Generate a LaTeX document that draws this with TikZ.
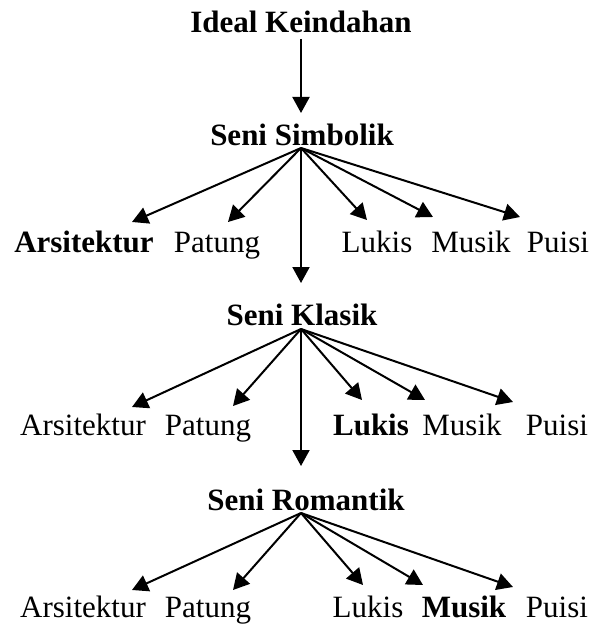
\documentclass[tikz,border=0pt]{standalone}
\usepackage{fontspec}
\setmainfont{Liberation Serif}
\usetikzlibrary{arrows.meta}

\tikzset{
  head/.style={anchor=base, font=\fontsize{15.5}{18}\selectfont\bfseries, inner sep=0pt},
  art/.style={anchor=base, font=\fontsize{15.5}{18}\selectfont, inner sep=0pt},
  artb/.style={art, font=\fontsize{15.5}{18}\selectfont\bfseries},
  arr/.style={-{Triangle[length=8pt,width=8.5pt]}, line width=1pt}
}

\begin{document}
\begin{tikzpicture}[x=0.5pt, y=-0.5pt]
\useasboundingbox (0,0) rectangle (594,626);

% judul
\node[head] (ideal) at (301,33) {Ideal Keindahan};
\node[head] (simbolik) at (302,145) {Seni Simbolik};
\node[head] (klasik) at (302,325) {Seni Klasik};
\node[head] (romantik) at (306,510) {Seni Romantik};

\coordinate (o0) at (301,39);
\coordinate (o1) at (301,148);
\coordinate (o2) at (301,329);
\coordinate (o3) at (301,513);

\draw[arr] (o0) -- (301,113) coordinate (t0);
\draw[arr] (o1) -- (301,283) coordinate (t1);
\draw[arr] (o2) -- (301,466) coordinate (t2);

% seni simbolik
\node[artb] (ars1) at (84,252) {Arsitektur};
\node[art] (pat1) at (217,252) {Patung};
\node[art] (luk1) at (377,252) {Lukis};
\node[art] (mus1) at (471,252) {Musik};
\node[art] (pui1) at (558,252) {Puisi};

\coordinate (ta1) at (132,222);
\coordinate (tp1) at (228,222);
\coordinate (tl1) at (367,220);
\coordinate (tm1) at (433,217);
\coordinate (tu1) at (520,217);
\foreach \t in {ta1,tp1,tl1,tm1,tu1} \draw[arr] (o1) -- (\t);

% seni klasik
\node[art] (ars2) at (83,435) {Arsitektur};
\node[art] (pat2) at (208,435) {Patung};
\node[artb] (luk2) at (371,435) {Lukis};
\node[art] (mus2) at (462,435) {Musik};
\node[art] (pui2) at (557,435) {Puisi};

\coordinate (ta2) at (132,407);
\coordinate (tp2) at (233,406);
\coordinate (tl2) at (362,400);
\coordinate (tm2) at (425,400);
\coordinate (tu2) at (513,402);
\foreach \t in {ta2,tp2,tl2,tm2,tu2} \draw[arr] (o2) -- (\t);

% seni romantik
\node[art] (ars3) at (83,617) {Arsitektur};
\node[art] (pat3) at (208,617) {Patung};
\node[art] (luk3) at (368,617) {Lukis};
\node[artb] (mus3) at (464,617) {Musik};
\node[art] (pui3) at (557,617) {Puisi};

\coordinate (ta3) at (132,590);
\coordinate (tp3) at (233,590);
\coordinate (tl3) at (363,585);
\coordinate (tm3) at (423,585);
\coordinate (tu3) at (513,587);
\foreach \t in {ta3,tp3,tl3,tm3,tu3} \draw[arr] (o3) -- (\t);

\end{tikzpicture}
\end{document}
